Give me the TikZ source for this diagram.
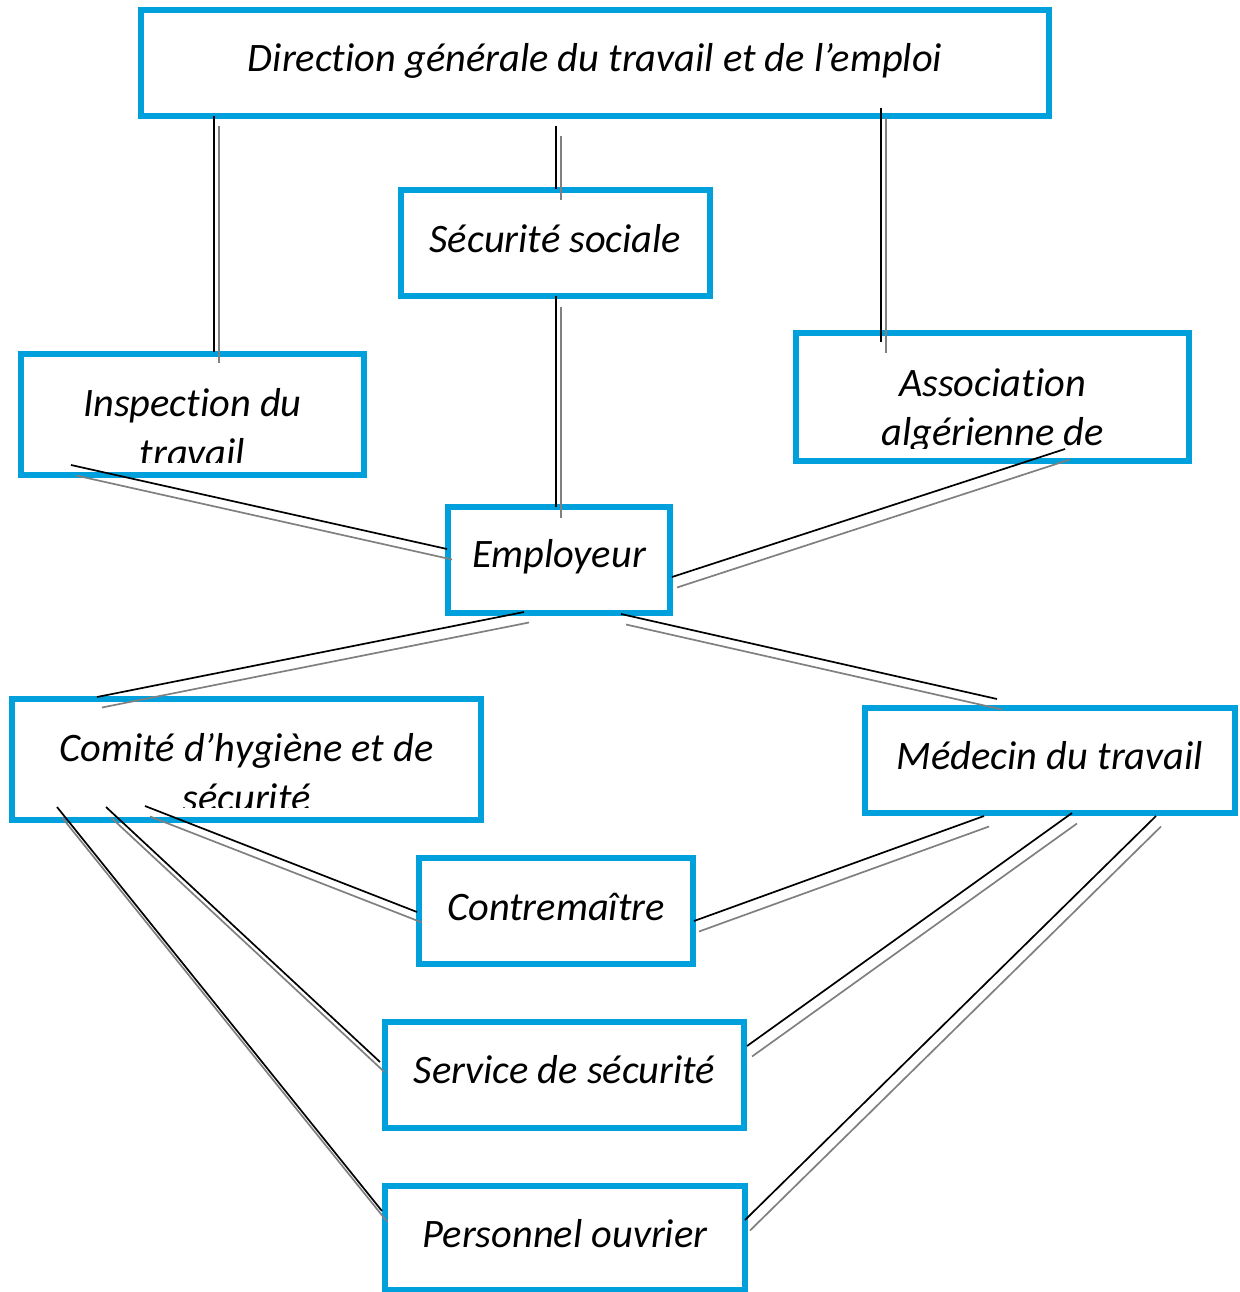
\documentclass[tikz,border=0pt]{standalone}
\usepackage{fontspec}
\setmainfont[Ligatures=NoCommon]{Carlito}
\usetikzlibrary{calc}

\definecolor{boxblue}{RGB}{0,160,220}
\definecolor{shadowgray}{RGB}{128,128,128}

\tikzset{
  box/.style={draw=boxblue, line width=6pt, rectangle, outer sep=0pt,
              inner sep=0pt, anchor=north west, fill=white},
  label/.style={anchor=base, inner sep=0pt,
                font=\fontsize{40.4pt}{49pt}\selectfont\itshape},
  link/.style={draw=black, line width=1.7pt,
               preaction={draw=shadowgray, line width=1.7pt,
                          transform canvas={xshift=5pt, yshift=-10.5pt}}}
}

\begin{document}
\begin{tikzpicture}[x=1pt, y=-1pt]
  \useasboundingbox (0,0) rectangle (1239,1292);

  % boxes (corner, size)
  \node[box, minimum width=908pt, minimum height=106pt] (dir)  at (141,10)   {};
  \node[box, minimum width=309pt, minimum height=106pt] (secu) at (401,190)  {};
  \node[box, minimum width=343pt, minimum height=121pt] (insp) at (21,354)   {};
  \node[box, minimum width=393pt, minimum height=128pt] (assoc) at (796,333) {};
  \node[box, minimum width=222pt, minimum height=106pt] (empl) at (448,507)  {};
  \node[box, minimum width=469pt, minimum height=121pt] (comite) at (12,699) {};
  \node[box, minimum width=370pt, minimum height=105pt] (medecin) at (865,708) {};
  \node[box, minimum width=274pt, minimum height=106pt] (contre) at (419,858) {};
  \node[box, minimum width=359pt, minimum height=106pt] (service) at (385,1022) {};
  \node[box, minimum width=360pt, minimum height=104pt] (perso) at (385,1186) {};

  % single-line captions
  \node[label] (dir-t)     at ($(dir.north)+(0,62)$)     {Direction générale du travail et de l’emploi};
  \node[label] (secu-t)    at ($(secu.north)+(0,62)$)    {Sécurité sociale};
  \node[label] (empl-t)    at ($(empl.north)+(0,60)$)    {Employeur};
  \node[label] (medecin-t) at ($(medecin.north)+(0,61)$) {Médecin du travail};
  \node[label] (contre-t)  at ($(contre.north)+(0,62)$)  {Contremaître};
  \node[label] (service-t) at ($(service.north)+(0,61)$) {Service de sécurité};
  \node[label] (perso-t)   at ($(perso.north)+(0,61)$)   {Personnel ouvrier};

  % two-line captions, cut off by the text area of their boxes
  \begin{scope}
    \clip ($(insp.north west)+(3,3)$) rectangle ($(insp.south east)+(-3,-13)$);
    \node[label] (insp-t1) at ($(insp.north)+(0,62)$)  {Inspection du};
    \node[label] (insp-t2) at ($(insp.north)+(0,112)$) {travail};
  \end{scope}
  \begin{scope}
    \clip ($(assoc.north west)+(3,3)$) rectangle ($(assoc.south east)+(-3,-13)$);
    \node[label] (assoc-t1) at ($(assoc.north)+(0,63)$)  {Association};
    \node[label] (assoc-t2) at ($(assoc.north)+(0,112)$) {algérienne de};
  \end{scope}
  \begin{scope}
    \clip ($(comite.north west)+(3,3)$) rectangle ($(comite.south east)+(-3,-13)$);
    \node[label] (comite-t1) at ($(comite.north)+(0,62)$)  {Comité d’hygiène et de};
    \node[label] (comite-t2) at ($(comite.north)+(0,112)$) {sécurité};
  \end{scope}

  % connectors
  \draw[link] ($(dir.south west)+(73,0)$)    -- ($(insp.north west)+(193,-2)$);
  \draw[link] ($(dir.south west)+(415,10)$)  -- ($(secu.north west)+(155,-1)$);
  \draw[link] ($(dir.south west)+(740,-8)$)  -- ($(assoc.north west)+(85,9)$);
  \draw[link] ($(secu.south west)+(155,0)$)  -- ($(empl.north west)+(108,0)$);
  \draw[link] ($(insp.south west)+(50,-10)$) -- ($(empl.north west)+(-1,42)$);
  \draw[link] ($(assoc.south west)+(269,-12)$) -- ($(empl.north east)+(2,70)$);
  \draw[link] ($(empl.south west)+(76,-1)$)  -- ($(comite.north west)+(85,-2)$);
  \draw[link] ($(empl.south west)+(173,1)$)  -- ($(medecin.north west)+(132,-9)$);
  \draw[link] ($(comite.south west)+(133,-14)$) -- ($(contre.north west)+(-2,54)$);
  \draw[link] ($(comite.south west)+(94,-13)$)  -- ($(service.north west)+(-5,40)$);
  \draw[link] ($(comite.south west)+(45,-13)$)  -- ($(perso.north west)+(-3,25)$);
  \draw[link] ($(medecin.south west)+(119,3)$)  -- ($(contre.north east)+(1,63)$);
  \draw[link] ($(medecin.south west)+(207,0)$)  -- ($(service.north east)+(3,24)$);
  \draw[link] ($(medecin.south west)+(291,3)$)  -- ($(perso.north east)+(0,34)$);
\end{tikzpicture}
\end{document}
